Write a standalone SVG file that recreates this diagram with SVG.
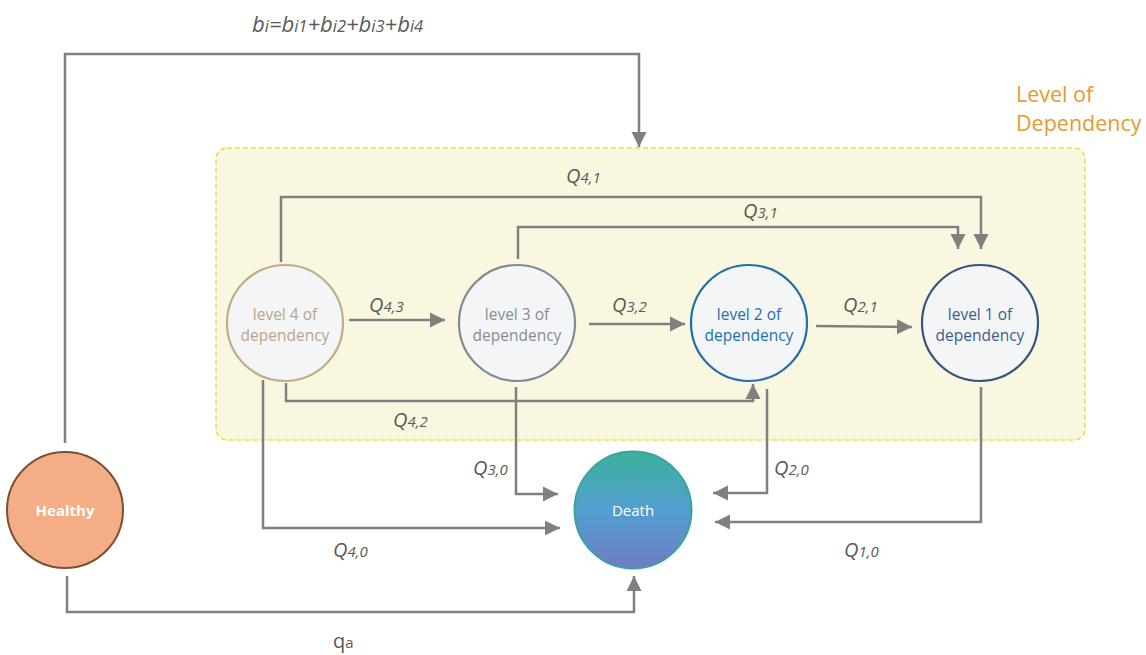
<svg xmlns="http://www.w3.org/2000/svg" width="1146" height="655" viewBox="0 0 1146 655">
<style>
.ln{fill:none;stroke:#808080;stroke-width:2.5}
.lb{font-family:"Open Sans","DejaVu Sans",sans-serif;font-style:italic;fill:#5a5a5a;font-size:20px}
.sb{font-size:15px}
.nt{font-family:"Open Sans","DejaVu Sans",sans-serif;font-size:15.5px;text-anchor:middle}
.lvl{fill:#f4f5f6;stroke-width:2.2}
</style>
<defs>
<marker id="ah" viewBox="0 0 10 10" refX="10" refY="5" markerWidth="6" markerHeight="6.4" markerUnits="strokeWidth" orient="auto">
<path d="M0,0 L10,5 L0,10 Z" fill="#808080"/>
</marker>
<linearGradient id="dg" x1="0" y1="0" x2="0" y2="1">
<stop offset="0" stop-color="#3bb19c"/>
<stop offset="0.5" stop-color="#529fd0"/>
<stop offset="1" stop-color="#6f7dc3"/>
</linearGradient>
</defs>
<rect width="1146" height="655" fill="#ffffff"/>
<g id="group-level">
<rect x="216" y="148" width="869" height="292" rx="11" fill="#faf7e0" stroke="#f5d94a" stroke-width="1.6" stroke-dasharray="5,3"/>
<text x="1016" y="102" font-family="'Open Sans','DejaVu Sans',sans-serif" font-size="21.5" fill="#e69a2e">Level of</text>
<text x="1016" y="131" font-family="'Open Sans','DejaVu Sans',sans-serif" font-size="21.5" fill="#e69a2e">Dependency</text>
</g>
<g id="connectors">
<path class="ln" d="M65,443 V54 H639 V147" marker-end="url(#ah)"/>
<path class="ln" d="M67,576 V612 H634 V576" marker-end="url(#ah)"/>
<path class="ln" d="M281,262 V197 H981 V249" marker-end="url(#ah)"/>
<path class="ln" d="M518,259 V227 H958 V249" marker-end="url(#ah)"/>
<path class="ln" d="M349,320 H445" marker-end="url(#ah)"/>
<path class="ln" d="M589,324 H685" marker-end="url(#ah)"/>
<path class="ln" d="M816,326 L912,327" marker-end="url(#ah)"/>
<path class="ln" d="M286,383 V401 H753 V384" marker-end="url(#ah)"/>
<path class="ln" d="M263,380 V528 H560" marker-end="url(#ah)"/>
<path class="ln" d="M516,387 V494 H558" marker-end="url(#ah)"/>
<path class="ln" d="M767,389 V493 H713" marker-end="url(#ah)"/>
<path class="ln" d="M981,387 V522 H715" marker-end="url(#ah)"/>
</g>
<g id="labels">
<text class="lb" x="252" y="32" style="font-size:22px">b<tspan style="font-size:16.5px">i</tspan>=b<tspan style="font-size:16.5px">i1</tspan>+b<tspan style="font-size:16.5px">i2</tspan>+b<tspan style="font-size:16.5px">i3</tspan>+b<tspan style="font-size:16.5px">i4</tspan></text>
<text class="lb" x="566" y="183">Q<tspan class="sb">4,1</tspan></text>
<text class="lb" x="743" y="218">Q<tspan class="sb">3,1</tspan></text>
<text class="lb" x="369" y="312">Q<tspan class="sb">4,3</tspan></text>
<text class="lb" x="612" y="312">Q<tspan class="sb">3,2</tspan></text>
<text class="lb" x="843" y="312">Q<tspan class="sb">2,1</tspan></text>
<text class="lb" x="393" y="427">Q<tspan class="sb">4,2</tspan></text>
<text class="lb" x="473" y="475">Q<tspan class="sb">3,0</tspan></text>
<text class="lb" x="774" y="475">Q<tspan class="sb">2,0</tspan></text>
<text class="lb" x="844" y="557">Q<tspan class="sb">1,0</tspan></text>
<text class="lb" x="333" y="557">Q<tspan class="sb">4,0</tspan></text>
<text class="lb" x="333" y="648" style="font-style:normal">q<tspan class="sb">a</tspan></text>
</g>
<g id="level4">
<circle class="lvl" cx="285" cy="323" r="58" stroke="#c4ab88"/>
<text class="nt" x="285" y="320" fill="#b9a58a">level 4 of</text>
<text class="nt" x="285" y="341" fill="#b9a58a">dependency</text>
</g>
<g id="level3">
<circle class="lvl" cx="517" cy="323" r="58" stroke="#7e8c94"/>
<text class="nt" x="517" y="320" fill="#858e94">level 3 of</text>
<text class="nt" x="517" y="341" fill="#858e94">dependency</text>
</g>
<g id="level2">
<circle class="lvl" cx="749" cy="323" r="58" stroke="#1f6fad"/>
<text class="nt" x="749" y="320" fill="#1f6fad">level 2 of</text>
<text class="nt" x="749" y="341" fill="#1f6fad">dependency</text>
</g>
<g id="level1">
<circle class="lvl" cx="980" cy="323" r="58" stroke="#34557f"/>
<text class="nt" x="980" y="320" fill="#3a5e8c">level 1 of</text>
<text class="nt" x="980" y="341" fill="#3a5e8c">dependency</text>
</g>
<g id="healthy">
<circle cx="65" cy="510" r="58" fill="#f4ad85" stroke="#7a4f35" stroke-width="2"/>
<text class="nt" x="65" y="516" fill="#ffffff" font-weight="bold" style="font-size:15px">Healthy</text>
</g>
<g id="death">
<circle cx="633" cy="510" r="58.5" fill="url(#dg)" stroke="#3aa3a0" stroke-width="2"/>
<text class="nt" x="633" y="516" fill="#ffffff" style="font-size:15px">Death</text>
</g>
</svg>
